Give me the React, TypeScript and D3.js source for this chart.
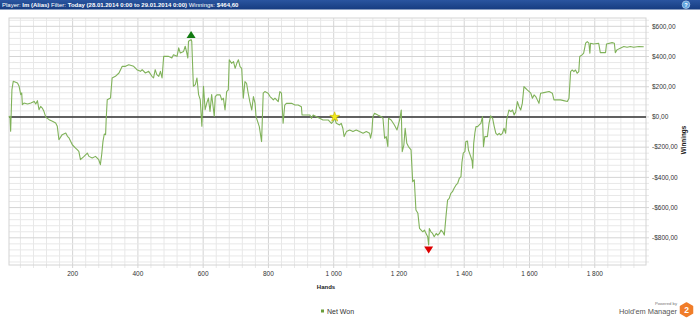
import React from "react";
import * as d3 from "d3";

const hands = [4,8,10,14,18,31,36,41,44,46,51,62,72,82,87,92,97,102,107,112,118,128,138,148,153,158,168,179,184,189,199,209,214,219,224,235,245,250,260,270,280,285,289,293,297,301,303,306,316,321,331,342,352,362,372,387,397,408,413,423,433,443,448,453,458,464,469,474,479,494,504,509,520,525,530,540,545,550,553,555,563,565,570,576,581,586,591,596,601,606,611,616,621,626,631,634,637,642,652,657,662,667,672,677,680,687,693,698,703,708,713,718,723,728,733,738,743,749,754,759,762,767,772,779,784,789,799,805,810,815,820,825,830,835,840,845,850,855,871,881,891,901,903,917,927,932,937,947,957,967,983,993,998,1003,1008,1018,1023,1028,1032,1039,1049,1059,1069,1079,1090,1100,1110,1113,1117,1120,1125,1135,1146,1151,1156,1161,1166,1168,1176,1186,1194,1202,1207,1210,1215,1219,1224,1229,1237,1242,1247,1252,1258,1263,1268,1273,1278,1283,1288,1291,1293,1298,1303,1308,1314,1319,1324,1329,1334,1339,1344,1349,1354,1359,1364,1369,1375,1380,1385,1390,1393,1397,1402,1405,1410,1413,1420,1424,1426,1429,1433,1436,1441,1446,1451,1456,1459,1463,1471,1476,1481,1487,1492,1497,1502,1507,1512,1517,1522,1527,1530,1537,1543,1548,1553,1558,1563,1568,1573,1578,1583,1588,1593,1599,1604,1609,1614,1619,1624,1629,1634,1644,1660,1670,1675,1685,1695,1705,1716,1721,1726,1731,1736,1741,1746,1751,1754,1761,1766,1772,1777,1782,1785,1787,1797,1812,1817,1833,1836,1853,1860,1863,1868,1878,1889,1899,1909,1919,1935,1950];
const winnings = [0,4,-95,181,236,225,203,148,159,81,92,86,92,103,86,108,48,70,59,37,-3,-18,-29,-40,-62,-151,-117,-106,-128,-139,-184,-206,-217,-228,-283,-261,-239,-261,-272,-261,-283,-316,-250,-162,-113,-117,-7,114,125,258,269,291,335,335,346,335,313,302,313,291,302,269,258,313,280,269,302,258,401,401,390,412,401,457,423,434,468,423,390,501,512,501,203,214,258,148,115,-62,203,48,92,125,37,148,59,4,135,146,146,113,124,46,168,179,378,355,366,322,355,378,333,322,124,234,223,157,101,46,135,90,2,-31,-64,-163,157,168,157,135,124,113,124,113,101,168,157,-42,79,90,90,79,79,68,13,13,13,-9,13,2,-9,-20,-20,-42,-31,-9,-42,-53,-42,-75,-130,-97,-86,-97,-86,-97,-108,-97,-108,-141,-97,2,24,13,2,-9,-141,-130,-196,-9,-20,-53,-86,-20,46,-230,-186,-75,-174,-196,-218,-428,-417,-616,-638,-738,-749,-760,-749,-771,-793,-848,-738,-760,-771,-793,-771,-782,-771,-749,-760,-782,-660,-550,-539,-506,-495,-472,-450,-439,-406,-395,-300,-240,-230,-163,-160,-220,-263,-290,-340,-175,-100,-64,-64,-53,-42,2,-197,-130,-130,-42,7,-9,-64,-108,-119,-108,-119,-108,-75,-108,-20,46,35,46,13,35,102,68,46,90,201,190,179,168,157,124,146,135,113,90,157,161,168,157,113,113,113,108,102,124,300,311,300,311,289,300,400,411,422,488,499,488,422,488,483,488,426,426,483,492,488,426,444,455,466,461,466,461,466,464.6];

const xTicks = [200, 400, 600, 800, 1000, 1200, 1400, 1600, 1800];
const yTicks = [600, 400, 200, 0, -200, -400, -600, -800];
const starHand = 1003;
const starValue = 0;
const headerPlayer = "Im (Alias)";
const headerFilter = "Today (28.01.2014 0:00 to 29.01.2014 0:00)";
const headerWinnings = "$464,60";
const seriesName = "Net Won";

const FONT = "'Liberation Sans', Arial, sans-serif";

function fmtX(v: number) {
  if (v >= 1000) return `${Math.floor(v / 1000)} ${String(v % 1000).padStart(3, "0")}`;
  return String(v);
}
function fmtY(v: number) {
  return (v < 0 ? "-" : "") + "$" + Math.abs(v) + ",00";
}

export default function App() {
  const W = 700, H = 319;
  const left = 9, right = 646, top = 18, bottom = 265;
  const x = d3.scaleLinear().domain([5, 1957]).range([left, right]);
  const y = d3.scaleLinear().domain([-980, 655]).range([bottom, top]);
  const data = hands.map((h, i) => [h, winnings[i]] as [number, number]);
  const line = d3.line<[number, number]>().x(d => x(d[0])).y(d => y(d[1]));

  const minorX = d3.range(40, 1957, 40);
  const minorY = d3.range(-960, 655, 40);

  let maxI = 0, minI = 0;
  winnings.forEach((v, i) => {
    if (v > winnings[maxI]) maxI = i;
    if (v < winnings[minI]) minI = i;
  });
  const mx = x(hands[maxI]), my = y(winnings[maxI]);
  const nx = x(hands[minI]), ny = y(winnings[minI]);
  const sx = x(starHand), sy = y(starValue);
  const star = d3.symbol().type(d3.symbolStar).size(30)();

  return (
    <svg width={W} height={H} style={{ position: "absolute", left: 0, top: 0, background: "#fff" }} fontFamily={FONT}>
      <defs>
        <linearGradient id="hdr" x1="0" y1="0" x2="0" y2="1">
          <stop offset="0" stopColor="#2a55a0" />
          <stop offset="1" stopColor="#163c80" />
        </linearGradient>
      </defs>
      <rect x={0} y={0} width={W} height={9.5} fill="url(#hdr)" />
      <text x={2} y={7} fontSize={6} fill="#fff">
        <tspan>Player: </tspan>
        <tspan fontWeight="bold">{headerPlayer}</tspan>
        <tspan> Filter: </tspan>
        <tspan fontWeight="bold">{headerFilter}</tspan>
        <tspan> Winnings: </tspan>
        <tspan fontWeight="bold">{headerWinnings}</tspan>
      </text>
      <circle cx={686} cy={4.7} r={3.8} fill="#5ea3e0" stroke="#cfe4f7" strokeWidth={0.6} />
      <text x={686} y={6.8} fontSize={5.5} fontWeight="bold" fill="#fff" textAnchor="middle">?</text>

      {/* grid */}
      <rect x={left} y={top} width={right - left} height={bottom - top} fill="#fff" />
      {minorX.map(v => (
        <line key={"gx" + v} x1={x(v)} x2={x(v)} y1={top} y2={bottom + 3}
          stroke={v % 200 === 0 ? "#d4d4d4" : "#e8e8e8"} strokeWidth={1} />
      ))}
      {minorY.map(v => (
        <line key={"gy" + v} x1={left} x2={right + 3} y1={y(v)} y2={y(v)}
          stroke={v % 200 === 0 ? "#d4d4d4" : "#e8e8e8"} strokeWidth={1} />
      ))}
      <rect x={left} y={top} width={right - left} height={bottom - top} fill="none" stroke="#d4d4d4" strokeWidth={1} />

      {/* zero line */}
      <line x1={left} x2={right} y1={y(0)} y2={y(0)} stroke="#333" strokeWidth={1.6} />

      {/* series */}
      <path d={line(data) || ""} fill="none" stroke="#80b25a" strokeWidth={1.1} strokeLinejoin="round" />

      {/* markers */}
      <path d={`M${mx - 4.5},${my - 1.5} L${mx + 4.5},${my - 1.5} L${mx},${my - 8.5} Z`} fill="#117a11" />
      <path d={`M${nx - 4.5},${ny + 1.5} L${nx + 4.5},${ny + 1.5} L${nx},${ny + 8.5} Z`} fill="#dd0000" />
      <path d={star} transform={`translate(${sx},${sy})`} fill="#f2ea1a" stroke="#c9b800" strokeWidth={0.6} />

      {/* axes labels */}
      {xTicks.map(v => (
        <text key={"xt" + v} x={x(v)} y={275.5} fontSize={6.5} fill="#333" textAnchor="middle">{fmtX(v)}</text>
      ))}
      {yTicks.map(v => (
        <text key={"yt" + v} x={652} y={y(v) + 2.3} fontSize={6.5} fill="#333">{fmtY(v)}</text>
      ))}
      <text x={326} y={288.5} fontSize={6} fontWeight="bold" fill="#222" textAnchor="middle">Hands</text>
      <text transform="translate(685.5,140) rotate(-90)" fontSize={6.3} fontWeight="bold" fill="#222" textAnchor="middle">Winnings</text>

      {/* legend */}
      <rect x={321} y={309.5} width={3} height={3} fill="#6a9e3a" />
      <text x={327} y={313.5} fontSize={7} fill="#333">{seriesName}</text>

      {/* logo */}
      <text x={677} y={305} fontSize={4.2} fill="#777" textAnchor="end">Powered by</text>
      <text x={677} y={313.5} fontSize={7.4} fill="#555" textAnchor="end">Hold'em Manager</text>
      <path d="M686.5,303 L692.5,306.3 L692.5,313.2 L686.5,316.5 L680.5,313.2 L680.5,306.3 Z" fill="#f07d2a" stroke="#f07d2a" strokeWidth={1.5} strokeLinejoin="round" />
      <text x={686.5} y={313.2} fontSize={8.5} fontWeight="bold" fill="#fff" textAnchor="middle">2</text>
    </svg>
  );
}
